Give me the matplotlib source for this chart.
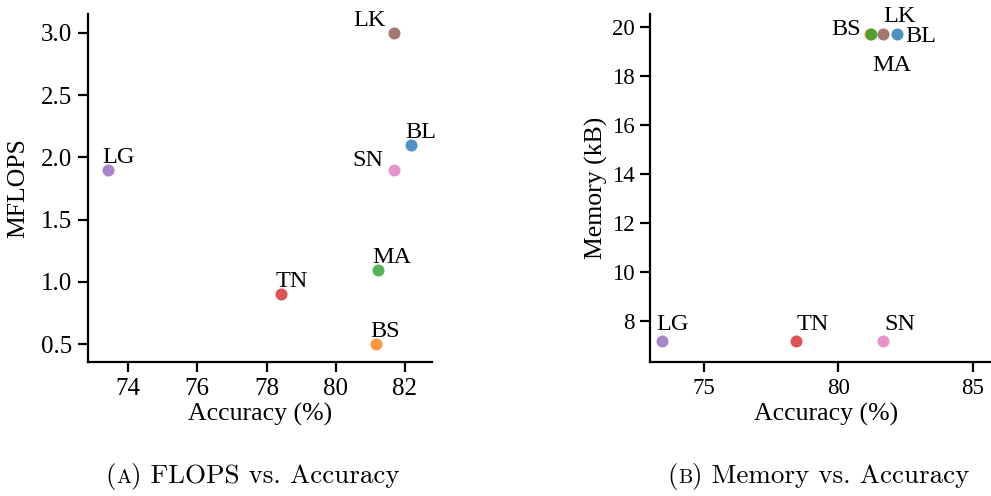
import matplotlib
matplotlib.use("Agg")
import matplotlib.pyplot as plt
from matplotlib import font_manager
from matplotlib.offsetbox import TextArea, HPacker, AnchoredOffsetbox

# make sure a Times-like serif is picked up
serif_names = sorted({f.name for f in font_manager.fontManager.ttflist
                      if "Liberation Serif" in f.name or "Times" in f.name})
if not serif_names:
    for path in font_manager.findSystemFonts():
        if "LiberationSerif" in path:
            font_manager.fontManager.addfont(path)
    serif_names = ["Liberation Serif"]
plt.rcParams["font.family"] = serif_names[:1] + ["DejaVu Serif"]

models = ["BL", "BS", "MA", "TN", "LG", "LK", "SN"]
colors = ["tab:blue", "tab:orange", "tab:green", "tab:red", "tab:purple", "tab:brown", "tab:pink"]
accuracy = [82.17, 81.17, 81.23, 78.43, 73.42, 81.67, 81.67]
mflops = [2.1, 0.5, 1.1, 0.9, 1.9, 3.0, 1.9]
memory_kb = [19.7, 19.7, 19.7, 7.2, 7.2, 19.7, 7.2]

flops_ticks = [0.5, 1.0, 1.5, 2.0, 2.5, 3.0]
mem_ticks = [8, 10, 12, 14, 16, 18, 20]
acc_ticks_a = [74, 76, 78, 80, 82]
acc_ticks_b = [75, 80, 85]

# label offsets in pixels: (dx, dy, horizontal alignment)
offsets_a = {
    "BL": (-6, 7, "left"), "BS": (-6, 7, "left"), "MA": (-6, 7, "left"),
    "TN": (-6, 7, "left"), "LG": (-6, 7, "left"), "LK": (-8, 7, "right"),
    "SN": (-10, 4, "right"),
}
offsets_b = {
    "BL": (9, -8, "left"), "BS": (-9, -1, "right"), "MA": (1, -37, "left"),
    "TN": (0, 11, "left"), "LG": (-5, 11, "left"), "LK": (0, 12, "left"),
    "SN": (1, 11, "left"),
}

LABEL_SIZE = 18.5

fig = plt.figure(figsize=(9.91, 4.96), dpi=100)
ax1 = fig.add_axes([0.0888, 0.2708, 0.3471, 0.7004])
ax2 = fig.add_axes([0.6562, 0.2708, 0.3428, 0.7004])


def style(ax, tick_size):
    for side in ["top", "right"]:
        ax.spines[side].set_visible(False)
    for side in ["left", "bottom"]:
        ax.spines[side].set_linewidth(1.6)
    ax.tick_params(width=1.6, length=7.5, labelsize=tick_size, pad=4)


def scatter_with_labels(ax, xs, ys, offsets):
    for name, c, x, y in zip(models, colors, xs, ys):
        ax.scatter(x, y, s=75, color=c, alpha=0.8, linewidths=0, zorder=3)
        dx, dy, ha = offsets[name]
        ax.annotate(name, (x, y), xytext=(dx, dy), textcoords="offset pixels",
                    ha=ha, va="baseline", fontsize=17.5)


scatter_with_labels(ax1, accuracy, mflops, offsets_a)
ax1.set_xlim(72.84, 82.78)
ax1.set_ylim(0.36, 3.15)
ax1.set_xticks(acc_ticks_a)
ax1.set_yticks(flops_ticks)
ax1.set_yticklabels([f"{v:.1f}" for v in flops_ticks])
ax1.set_xlabel("Accuracy (%)", fontsize=LABEL_SIZE)
ax1.set_ylabel("MFLOPS", fontsize=LABEL_SIZE)
ax1.xaxis.set_label_coords(0.5, -0.118)
ax1.yaxis.set_label_coords(-0.17, 0.5)
style(ax1, 18)

scatter_with_labels(ax2, accuracy, memory_kb, offsets_b)
ax2.set_xlim(73.0, 85.65)
ax2.set_ylim(6.34, 20.5)
ax2.set_xticks(acc_ticks_b)
ax2.set_yticks(mem_ticks)
ax2.set_xlabel("Accuracy (%)", fontsize=LABEL_SIZE)
ax2.set_ylabel("Memory (kB)", fontsize=LABEL_SIZE)
ax2.xaxis.set_label_coords(0.517, -0.118)
ax2.yaxis.set_label_coords(-0.125, 0.5)
style(ax2, 16.5)


def caption(letter, title, x):
    cap = dict(family="cmr10", size=19.5)
    parts = [
        TextArea("(", textprops=cap),
        TextArea(letter, textprops=dict(family="cmr10", size=14.5)),
        TextArea(") " + title, textprops=cap),
    ]
    box = HPacker(children=parts, align="baseline", pad=0, sep=0)
    anchored = AnchoredOffsetbox(loc="center", child=box, frameon=False,
                                 bbox_to_anchor=(x, 0.04), bbox_transform=fig.transFigure,
                                 borderpad=0, pad=0)
    fig.add_artist(anchored)


caption("A", "FLOPS vs. Accuracy", 0.255)
caption("B", "Memory vs. Accuracy", 0.826)

fig.savefig("out.png", dpi=100)
